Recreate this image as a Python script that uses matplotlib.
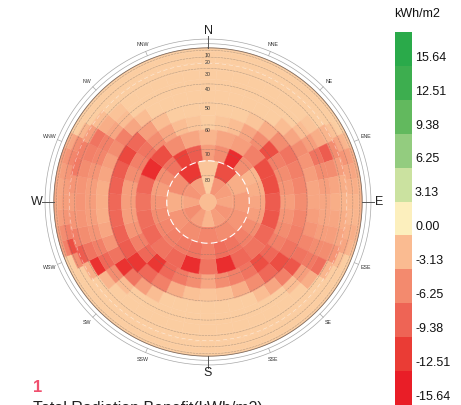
import numpy as np
import matplotlib
matplotlib.use("Agg")
import matplotlib.pyplot as plt
from matplotlib.colors import LinearSegmentedColormap, Normalize

plt.rcParams['font.family'] = ['Liberation Sans', 'DejaVu Sans']

# legend classes (kWh/m2) and their colours, top to bottom
legend_values = [15.64, 12.51, 9.38, 6.25, 3.13, 0.00, -3.13, -6.25, -9.38, -12.51, -15.64]
legend_colors = ['#2aaa4a', '#3dae4f', '#62b95e', '#93cc7f', '#cbe2a0', '#fcefbd',
                 '#fabb91', '#f38a6e', '#ee6455', '#ea3c35', '#e91e27']

# Reinhart sky patches (MF 2): patches per row, horizon -> zenith
row_counts = [60, 60, 60, 60, 48, 48, 48, 48, 36, 36, 24, 24, 12, 12]

row0 = [-2.0, -2.0, -2.0, -2.0, -2.0, -2.0, -2.0, -2.0, -2.0, -2.0, -2.0, -2.5,
        -3.5, -3.5, -3.0, -3.0, -3.0, -3.0, -2.5, -2.0, -2.0, -2.0, -2.0, -2.0,
        -2.0, -2.0, -2.0, -2.0, -2.0, -2.0, -2.0, -2.0, -2.0, -2.0, -2.0, -2.0,
        -2.0, -2.0, -2.0, -2.0, -2.0, -2.0, -4.5, -4.5, -4.0, -4.0, -4.0, -4.0,
        -4.5, -3.5, -2.0, -2.0, -2.0, -2.0, -2.0, -2.0, -2.0, -2.0, -2.0, -2.0]
row1 = [-2.0, -2.0, -2.0, -2.0, -2.0, -2.0, -2.0, -2.0, -2.0, -2.0, -2.0, -3.0,
        -4.0, -4.0, -3.5, -3.5, -3.5, -3.5, -3.0, -2.0, -2.0, -2.0, -2.0, -2.0,
        -2.0, -2.0, -2.0, -2.0, -2.0, -2.0, -2.0, -2.0, -2.0, -2.0, -2.0, -2.0,
        -2.0, -2.0, -2.0, -2.0, -2.0, -2.0, -5.0, -5.0, -4.5, -4.5, -4.5, -4.5,
        -5.0, -4.0, -2.0, -2.0, -2.0, -2.0, -2.0, -2.0, -2.0, -2.0, -2.0, -2.0]
row2 = [-2.0, -2.0, -2.0, -2.0, -2.0, -2.0, -2.0, -2.0, -2.0, -2.0, -2.0, -3.5,
        -5.0, -4.5, -4.0, -3.5, -3.5, -4.0, -3.5, -2.0, -2.0, -2.0, -2.0, -2.0,
        -2.0, -2.0, -2.0, -2.0, -2.0, -2.0, -2.0, -2.0, -2.0, -2.0, -2.0, -2.0,
        -2.0, -2.0, -2.0, -2.0, -2.0, -2.0, -7.0, -6.0, -5.0, -4.5, -4.5, -5.0,
        -5.5, -4.5, -2.0, -2.0, -2.0, -2.0, -2.0, -2.0, -2.0, -2.0, -2.0, -2.0]
row3 = [-2.0, -2.0, -2.0, -2.0, -2.0, -2.0, -2.0, -2.0, -2.0, -2.0, -2.8, -4.5,
        -5.5, -4.5, -4.0, -3.5, -3.5, -4.0, -4.5, -3.0, -2.0, -2.0, -2.0, -2.0,
        -2.0, -2.0, -2.0, -2.0, -2.0, -2.0, -2.0, -2.0, -2.0, -2.0, -2.0, -2.0,
        -2.0, -2.0, -2.0, -2.0, -2.0, -6.0, -11.0, -7.0, -5.5, -5.0, -5.0, -5.5,
        -6.5, -6.0, -3.5, -2.0, -2.0, -2.0, -2.0, -2.0, -2.0, -2.0, -2.0, -2.0]
row4 = [-2.0, -2.0, -2.0, -2.0, -2.0, -2.0, -2.0, -2.0, -3.5, -6.0, -5.0, -4.0,
        -3.5, -4.0, -4.5, -5.5, -3.5, -2.0, -2.0, -2.0, -2.0, -2.0, -2.0, -2.0,
        -2.0, -2.0, -2.0, -2.0, -2.0, -2.0, -2.0, -2.0, -4.0, -10.0, -7.0, -5.5,
        -5.0, -5.5, -7.5, -7.0, -5.0, -3.0, -2.0, -2.0, -2.0, -2.0, -2.0, -2.0]
row5 = [-2.0, -2.0, -2.0, -2.0, -2.0, -2.0, -2.0, -2.5, -4.0, -10.0, -6.0, -4.5,
        -4.0, -4.5, -5.0, -6.0, -8.5, -4.0, -2.0, -2.0, -2.0, -2.0, -2.0, -2.0,
        -2.0, -2.0, -2.0, -2.0, -2.0, -2.0, -2.0, -3.5, -13.5, -8.0, -6.0, -5.5,
        -5.5, -5.5, -6.0, -7.0, -8.0, -4.0, -2.6, -2.0, -2.0, -2.0, -2.0, -2.0]
row6 = [-2.0, -2.0, -2.0, -2.0, -2.0, -2.0, -2.0, -3.0, -5.0, -8.0, -6.0, -5.0,
        -4.5, -4.5, -5.0, -6.0, -7.5, -5.0, -3.0, -2.0, -2.0, -2.0, -2.0, -2.0,
        -2.0, -2.0, -2.0, -2.0, -2.0, -2.0, -3.0, -6.0, -9.0, -7.0, -5.5, -5.0,
        -5.0, -5.0, -5.5, -6.5, -7.0, -4.5, -3.0, -2.0, -2.0, -2.0, -2.0, -2.0]
row7 = [-2.0, -2.0, -2.0, -2.0, -2.0, -2.0, -3.0, -4.5, -6.0, -5.5, -5.0, -4.5,
        -4.5, -5.0, -5.5, -6.5, -8.0, -10.5, -7.0, -4.5, -3.0, -2.0, -2.0, -2.0,
        -2.0, -2.0, -2.0, -2.0, -3.0, -5.0, -8.0, -13.5, -8.0, -5.5, -4.5, -4.0,
        -4.0, -4.0, -4.5, -5.0, -6.0, -7.0, -4.5, -3.0, -2.0, -2.0, -2.0, -2.0]
row8 = [-2.0, -2.0, -2.0, -2.5, -4.0, -6.0, -8.0, -7.0, -6.5, -6.0, -6.5, -7.0,
        -8.0, -11.0, -9.0, -6.0, -4.0, -2.8, -2.5, -2.8, -4.0, -7.0, -9.0, -13.0,
        -10.0, -9.5, -9.0, -9.0, -9.5, -10.0, -11.5, -9.0, -5.0, -3.0, -2.0, -2.0]
row9 = [-2.0, -2.5, -3.0, -4.5, -6.0, -11.0, -7.0, -6.0, -5.5, -5.0, -5.5, -6.0,
        -7.0, -9.0, -11.0, -8.0, -7.0, -6.0, -4.5, -6.0, -7.5, -9.0, -13.0, -9.0,
        -7.0, -5.5, -5.0, -5.0, -5.0, -6.0, -7.0, -8.0, -6.0, -4.5, -3.0, -2.5]
row10 = [-3.5, -4.5, -5.0, -7.0, -11.0, -11.0, -10.0, -10.5, -9.0, -8.0, -9.0, -14.0,
         -8.0, -14.0, -9.0, -8.0, -9.0, -8.5, -8.0, -9.0, -14.0, -11.0, -6.0, -4.5]
row11 = [-5.0, -6.0, -14.0, -6.0, -3.5, -4.0, -4.5, -5.0, -6.0, -7.0, -8.0, -8.5,
         -7.0, -8.0, -7.5, -7.0, -6.5, -6.0, -5.5, -5.0, -6.0, -8.0, -12.0, -10.0]
row12 = [-2.5, -11.0, -4.0, -5.0, -5.5, -6.0, -6.5, -6.0, -5.5, -4.0, -6.0, -13.0]
row13 = [-2.0, -5.5, -5.0, -4.5, -5.5, -5.0, -3.5, -5.0, -6.0, -4.5, -5.5, -5.0]
zenith = -3.0

rows = [row0, row1, row2, row3, row4, row5, row6, row7,
        row8, row9, row10, row11, row12, row13]

alt_rings = [10, 20, 30, 40, 50, 60, 70, 80]
directions = ['N', 'NNE', 'NE', 'ENE', 'E', 'ESE', 'SE', 'SSE',
              'S', 'SSW', 'SW', 'WSW', 'W', 'WNW', 'NW', 'NNW']

cmap = LinearSegmentedColormap.from_list(
    'lb', list(zip((np.array(legend_values[::-1]) + 15.64) / 31.28, legend_colors[::-1])))
norm = Normalize(-15.64, 15.64)

fig = plt.figure(figsize=(4.61, 4.05), dpi=100)
ax = fig.add_axes([0.0499, 0.0444, 0.8026, 0.9136], projection='polar')
ax.set_theta_zero_location('N')
ax.set_theta_direction(-1)
ax.axis('off')

# orthographic projection of altitude
row_h = 90.0 / 14.5
for k, vals in enumerate(rows):
    n = row_counts[k]
    r_in = np.cos(np.deg2rad((k + 1) * row_h))
    r_out = np.cos(np.deg2rad(k * row_h))
    th = np.deg2rad(np.arange(n) * 360.0 / n)
    cols = cmap(norm(np.array(vals)))
    ax.bar(th, r_out - r_in, width=2 * np.pi / n, bottom=r_in, color=cols,
           edgecolor=cols, linewidth=0.3, align='center')
r_cap = np.cos(np.deg2rad(14 * row_h))
ax.bar(0, r_cap, width=2 * np.pi, bottom=0, color=cmap(norm(zenith)),
       edgecolor=cmap(norm(zenith)), linewidth=0.3)

circ = np.linspace(0, 2 * np.pi, 721)
for a in alt_rings:
    r = np.cos(np.deg2rad(a))
    ax.plot(circ, np.full_like(circ, r), color='#7a7068', lw=0.35, alpha=0.6,
            ls=(0, (5, 1.5)))
    ax.text(0, r - 0.037, str(a), ha='center', va='center', fontsize=3.8, color='#333333')

ax.plot(circ, np.full_like(circ, np.cos(np.deg2rad(12 * row_h))), color='white',
        lw=0.8, ls=(0, (6, 3)))
ax.plot(circ, np.full_like(circ, 0.9), color='white', lw=0.5, ls=(0, (6, 4)), alpha=0.5)

ax.plot(circ, np.full_like(circ, 1.0), color='#7d6c62', lw=0.6)
ax.plot(circ, np.full_like(circ, 1.027), color='#a8a8a8', lw=0.5)
ax.plot(circ, np.full_like(circ, 1.057), color='#a8a8a8', lw=0.5)

for i, d in enumerate(directions):
    t = np.deg2rad(i * 22.5)
    if i % 4 == 0:
        ax.plot([t, t], [1.0, 1.075], color='#555555', lw=0.7)
        ax.text(t, 1.112, d, ha='center', va='center', fontsize=9, color='#222222')
    else:
        ax.plot([t, t], [1.027, 1.057], color='#a8a8a8', lw=0.5)
        ax.text(t, 1.108, d, ha='center', va='center', fontsize=3.8, color='#333333')
ax.set_ylim(0, 1.2)

# legend
cb = fig.add_axes([395 / 461, 0.0, 17 / 461, 373 / 405])
for i, c in enumerate(legend_colors):
    cb.bar(0.5, 1, width=1, bottom=10 - i, color=c)
    cb.text(1.18, 10 - i + 0.24, f"{legend_values[i]:.2f}", ha='left', va='center',
            fontsize=9, color='#111111', clip_on=False)
cb.set_xlim(0, 1)
cb.set_ylim(0, 11)
cb.axis('off')
fig.text(417 / 461, 0.965, 'kWh/m2', ha='center', va='center', fontsize=9, color='#111111')

fig.text(33 / 461, 0.042, '1', ha='left', va='center', fontsize=12, fontweight='bold',
         color='#f0506e')
fig.text(33 / 461, 0.009, 'Total Radiation Benefit(kWh/m2)', ha='left', va='top',
         fontsize=11.5, color='#222222')

fig.savefig('out.png', dpi=100)
